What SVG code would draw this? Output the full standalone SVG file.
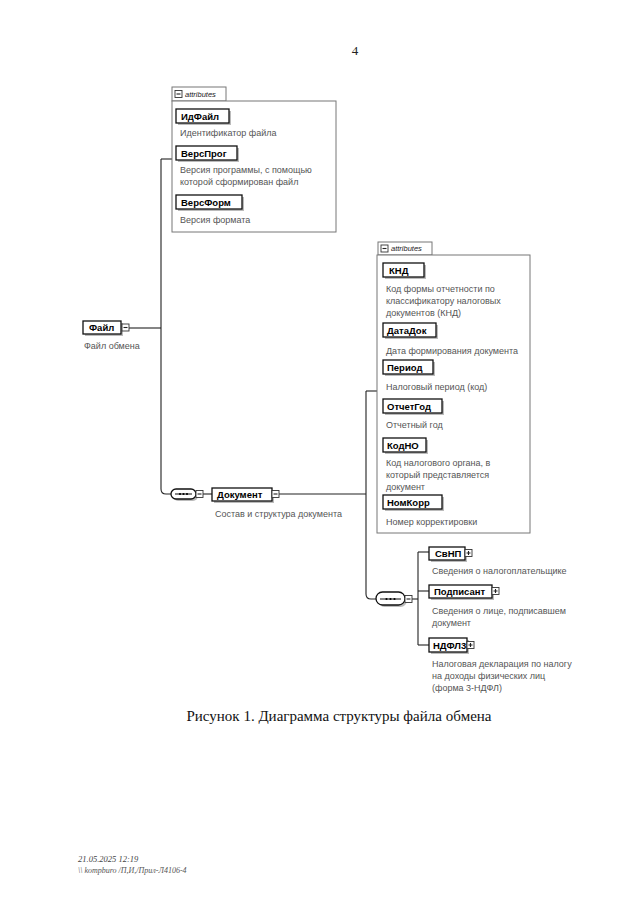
<svg xmlns="http://www.w3.org/2000/svg" width="640" height="907" viewBox="0 0 640 907">
<style>
.ln{fill:none;stroke:#222;stroke-width:1.1}
.box{fill:#fff;stroke:#111;stroke-width:1.3}
.sh{fill:#bbb}
.abox{fill:#fff;stroke:#777;stroke-width:1}
.lbl{font-family:"Liberation Sans",Arial,sans-serif;font-size:9.5px;font-weight:bold;fill:#000}
.desc{font-family:"Liberation Sans",Arial,sans-serif;font-size:9px;fill:#555}
.tab{font-family:"Liberation Sans",Arial,sans-serif;font-size:7.5px;font-style:italic;fill:#222}
.ic{fill:#fff;stroke:#333;stroke-width:0.9}
</style>
<rect width="640" height="907" fill="#fff"/>
<text x="355" y="55" font-family="Liberation Serif,serif" font-size="13" fill="#222" text-anchor="middle">4</text>

<g id="connectors">
<path class="ln" d="M129,328 H161"/>
<path class="ln" d="M161,159 V489 Q161,494 166,494 H171"/>
<path class="ln" d="M161,159 H172"/>
<path class="ln" d="M203,494 H212"/>
<path class="ln" d="M279,494 H366"/>
<path class="ln" d="M366,391 H377"/>
<path class="ln" d="M366,391 V594 Q366,599 371,599 H376"/>
<path class="ln" d="M412,599 H418"/>
<path class="ln" d="M418,552 V645"/>
<path class="ln" d="M418,552 H429"/>
<path class="ln" d="M418,591 H429"/>
<path class="ln" d="M418,645 H429"/>
</g>

<g id="attrs1">
<rect class="abox" x="172" y="87" width="54" height="14"/>
<rect class="ic" x="175" y="90.5" width="7" height="7"/>
<path class="ln" d="M176.5,94 H180.5"/>
<text class="tab" x="185" y="97">attributes</text>
<rect class="abox" x="172" y="101" width="164" height="131"/>
</g>
<g id="n-IdFile">
<rect class="sh" x="178" y="111" width="53" height="14"/>
<rect class="box" x="176" y="109" width="53" height="14"/>
<text class="lbl" x="181" y="120">ИдФайл</text>
<text class="desc" x="180" y="136">Идентификатор файла</text>
</g>
<g id="n-VersProg">
<rect class="sh" x="178" y="148" width="61" height="14"/>
<rect class="box" x="176" y="146" width="61" height="14"/>
<text class="lbl" x="181" y="157">ВерсПрог</text>
<text class="desc" x="180" y="173">Версия программы, с помощью</text>
<text class="desc" x="180" y="185">которой сформирован файл</text>
</g>
<g id="n-VersForm">
<rect class="sh" x="178" y="197" width="66" height="14"/>
<rect class="box" x="176" y="195" width="66" height="14"/>
<text class="lbl" x="181" y="206">ВерсФорм</text>
<text class="desc" x="180" y="223">Версия формата</text>
</g>

<g id="n-File">
<rect class="sh" x="85" y="323" width="38" height="13"/>
<rect class="box" x="83" y="321" width="38" height="13"/>
<text class="lbl" x="89" y="331">Файл</text>
<rect class="ic" x="122" y="324" width="7" height="7"/>
<path class="ln" d="M123.5,327.5 H127.5"/>
<text class="desc" x="84" y="349">Файл обмена</text>
</g>

<g id="seq1">
<rect class="sh" x="173" y="491" width="25" height="10" rx="5"/>
<rect class="box" x="171" y="489" width="25" height="10" rx="5"/>
<path class="ln" d="M175,494 H192"/>
<circle cx="180" cy="494" r="1.1" fill="#000"/><circle cx="183.5" cy="494" r="1.1" fill="#000"/><circle cx="187" cy="494" r="1.1" fill="#000"/>
<rect class="ic" x="196" y="490.5" width="7" height="7"/>
<path class="ln" d="M197.5,494 H201.5"/>
</g>
<g id="n-Document">
<rect class="sh" x="214" y="490" width="60" height="13"/>
<rect class="box" x="212" y="488" width="60" height="13"/>
<text class="lbl" x="217" y="498">Документ</text>
<rect class="ic" x="272" y="490.5" width="7" height="7"/>
<path class="ln" d="M273.5,494 H277.5"/>
<text class="desc" x="215" y="517">Состав и структура документа</text>
</g>

<g id="attrs2">
<rect class="abox" x="378" y="242" width="54" height="13"/>
<rect class="ic" x="381" y="245" width="7" height="7"/>
<path class="ln" d="M382.5,248.5 H386.5"/>
<text class="tab" x="391" y="251">attributes</text>
<rect class="abox" x="377" y="255" width="153" height="278"/>
</g>
<g id="n-KND">
<rect class="sh" x="385" y="265" width="41" height="14"/>
<rect class="box" x="383" y="263" width="41" height="14"/>
<text class="lbl" x="389" y="274">КНД</text>
<text class="desc" x="386" y="292">Код формы отчетности по</text>
<text class="desc" x="386" y="304">классификатору налоговых</text>
<text class="desc" x="386" y="316">документов (КНД)</text>
</g>
<g id="n-DataDok">
<rect class="sh" x="385" y="325" width="53" height="14"/>
<rect class="box" x="383" y="323" width="53" height="14"/>
<text class="lbl" x="387" y="334">ДатаДок</text>
<text class="desc" x="386" y="354">Дата формирования документа</text>
</g>
<g id="n-Period">
<rect class="sh" x="385" y="362" width="50" height="14"/>
<rect class="box" x="383" y="360" width="50" height="14"/>
<text class="lbl" x="387" y="371">Период</text>
<text class="desc" x="386" y="390">Налоговый период (код)</text>
</g>
<g id="n-OtchetGod">
<rect class="sh" x="385" y="401" width="59" height="14"/>
<rect class="box" x="383" y="399" width="59" height="14"/>
<text class="lbl" x="387" y="410">ОтчетГод</text>
<text class="desc" x="386" y="428">Отчетный год</text>
</g>
<g id="n-KodNO">
<rect class="sh" x="385" y="440" width="43" height="14"/>
<rect class="box" x="383" y="438" width="43" height="14"/>
<text class="lbl" x="387" y="449">КодНО</text>
<text class="desc" x="386" y="466">Код налогового органа, в</text>
<text class="desc" x="386" y="478">который представляется</text>
<text class="desc" x="386" y="490">документ</text>
</g>
<g id="n-NomKorr">
<rect class="sh" x="385" y="497" width="59" height="14"/>
<rect class="box" x="383" y="495" width="59" height="14"/>
<text class="lbl" x="387" y="506">НомКорр</text>
<text class="desc" x="386" y="525">Номер корректировки</text>
</g>

<g id="seq2">
<rect class="sh" x="378" y="594" width="29" height="13" rx="6.5"/>
<rect class="box" x="376" y="592" width="29" height="13" rx="6.5"/>
<path class="ln" d="M380,599 H401"/>
<circle cx="386.5" cy="599" r="1.1" fill="#000"/><circle cx="390.5" cy="599" r="1.1" fill="#000"/><circle cx="394.5" cy="599" r="1.1" fill="#000"/>
<rect class="ic" x="405" y="595.5" width="7" height="7"/>
<path class="ln" d="M406.5,599 H410.5"/>
</g>
<g id="n-SvNP">
<rect class="sh" x="431" y="549" width="36" height="13"/>
<rect class="box" x="429" y="547" width="36" height="13"/>
<text class="lbl" x="435" y="557">СвНП</text>
<rect class="ic" x="465" y="549.5" width="7" height="7"/>
<path class="ln" d="M466.5,553 H470.5 M468.5,551 V555"/>
<text class="desc" x="432" y="574">Сведения о налогоплательщике</text>
</g>
<g id="n-Podpisant">
<rect class="sh" x="431" y="587" width="63" height="13"/>
<rect class="box" x="429" y="585" width="63" height="13"/>
<text class="lbl" x="434" y="595">Подписант</text>
<rect class="ic" x="492" y="587.5" width="7" height="7"/>
<path class="ln" d="M493.5,591 H497.5 M495.5,589 V593"/>
<text class="desc" x="432" y="614">Сведения о лице, подписавшем</text>
<text class="desc" x="432" y="626">документ</text>
</g>
<g id="n-NDFL3">
<rect class="sh" x="431" y="640" width="38" height="14"/>
<rect class="box" x="429" y="638" width="38" height="14"/>
<text class="lbl" x="433" y="649">НДФЛ3</text>
<rect class="ic" x="467" y="641.5" width="7" height="7"/>
<path class="ln" d="M468.5,645 H472.5 M470.5,643 V647"/>
<text class="desc" x="432" y="667">Налоговая декларация по налогу</text>
<text class="desc" x="432" y="679">на доходы физических лиц</text>
<text class="desc" x="432" y="691">(форма 3-НДФЛ)</text>
</g>

<text x="339" y="721" font-family="Liberation Serif,serif" font-size="15" fill="#111" text-anchor="middle">Рисунок 1. Диаграмма структуры файла обмена</text>
<text x="78" y="862" font-family="Liberation Serif,serif" font-size="8.5" font-style="italic" fill="#444">21.05.2025 12:19</text>
<text x="78" y="873" font-family="Liberation Serif,serif" font-size="8" font-style="italic" fill="#555">\\ kompburo /П,И,/Прил-Л4106-4</text>
</svg>
